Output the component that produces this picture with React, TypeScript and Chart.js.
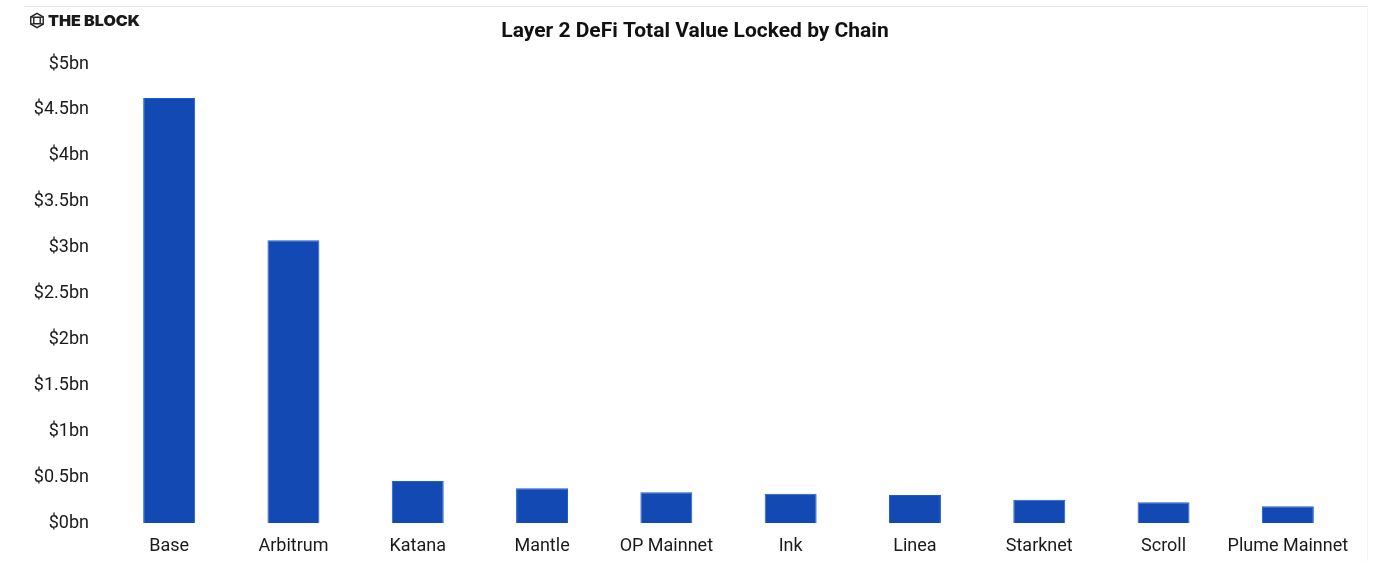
import React, { useEffect, useRef } from 'react';
import { Chart, registerables } from 'chart.js';

Chart.register(...registerables);

const categories = ['Base', 'Arbitrum', 'Katana', 'Mantle', 'OP Mainnet', 'Ink', 'Linea', 'Starknet', 'Scroll', 'Plume Mainnet'];
const tvlBn = [4.63, 3.08, 0.457, 0.378, 0.334, 0.319, 0.305, 0.254, 0.225, 0.182];
const yTicks = [0, 0.5, 1, 1.5, 2, 2.5, 3, 3.5, 4, 4.5, 5];
const chartTitle = 'Layer 2 DeFi Total Value Locked by Chain';
const brandName = 'THE BLOCK';

const FONT = 'Roboto, "Noto Sans", sans-serif';

const decoPlugin = {
  id: 'deco',
  beforeDraw(chart: any) {
    const ctx = chart.ctx;
    ctx.save();
    ctx.fillStyle = '#ffffff';
    ctx.fillRect(0, 0, chart.width, chart.height);
    ctx.strokeStyle = '#e6e6e6';
    ctx.lineWidth = 1;
    ctx.beginPath();
    ctx.moveTo(24, 6.5);
    ctx.lineTo(1368, 6.5);
    ctx.stroke();
    ctx.strokeStyle = '#f3f3f3';
    ctx.beginPath();
    ctx.moveTo(1367.5, 6.5);
    ctx.lineTo(1367.5, 561);
    ctx.stroke();
    ctx.restore();
  },
  afterDraw(chart: any) {
    const ctx = chart.ctx;
    ctx.save();
    // title
    ctx.fillStyle = '#111111';
    ctx.font = `bold 21px ${FONT}`;
    ctx.textAlign = 'center';
    ctx.textBaseline = 'middle';
    ctx.fillText(chartTitle, 695, 32);
    // logo icon
    const cx = 37, cy = 20.5, r = 7.2;
    ctx.strokeStyle = '#222222';
    ctx.lineWidth = 1.4;
    ctx.beginPath();
    for (let i = 0; i < 6; i++) {
      const a = Math.PI / 6 + (i * Math.PI) / 3;
      const x = cx + r * Math.cos(a);
      const y = cy + r * Math.sin(a);
      if (i === 0) ctx.moveTo(x, y); else ctx.lineTo(x, y);
    }
    ctx.closePath();
    ctx.stroke();
    const s = 3.2;
    ctx.beginPath();
    ctx.rect(cx - s, cy - s, 2 * s, 2 * s);
    ctx.moveTo(cx - s, cy - s); ctx.lineTo(cx - r * 0.87, cy - r * 0.5);
    ctx.moveTo(cx + s, cy - s); ctx.lineTo(cx + r * 0.87, cy - r * 0.5);
    ctx.moveTo(cx - s, cy + s); ctx.lineTo(cx - r * 0.87, cy + r * 0.5);
    ctx.moveTo(cx + s, cy + s); ctx.lineTo(cx + r * 0.87, cy + r * 0.5);
    ctx.stroke();
    // brand text
    ctx.font = `900 15px Inter, ${FONT}`;
    ctx.textAlign = 'left';
    ctx.textBaseline = 'middle';
    const w = ctx.measureText(brandName).width;
    const target = 92;
    ctx.translate(48, 21);
    ctx.scale(target / w, 1);
    ctx.fillStyle = '#1a1a1a';
    ctx.fillText(brandName, 0, 0);
    ctx.restore();
  },
};

export default function App() {
  const ref = useRef<HTMLCanvasElement>(null);
  useEffect(() => {
    if (!ref.current) return;
    const chart = new Chart(ref.current, {
      type: 'bar',
      data: {
        labels: categories,
        datasets: [
          {
            data: tvlBn,
            backgroundColor: '#1249b3',
            borderColor: '#1f5ad8',
            borderWidth: 1,
            categoryPercentage: 1,
            barPercentage: 0.418,
          },
        ],
      },
      options: {
        animation: false,
        responsive: true,
        maintainAspectRatio: false,
        layout: { padding: { left: 0, right: 32, top: 64, bottom: 0 } },
        plugins: {
          legend: { display: false },
          title: { display: false },
          tooltip: { enabled: false },
        },
        scales: {
          x: {
            grid: { display: false, drawTicks: false },
            border: { display: false },
            ticks: {
              color: '#1a1a1a',
              font: { family: FONT, size: 18 },
              padding: 13,
              maxRotation: 0,
              autoSkip: false,
            },
            afterFit(scale: any) {
              scale.height = 38;
            },
          },
          y: {
            min: 0,
            max: 5,
            grid: { display: false, drawTicks: false },
            border: { display: false },
            afterBuildTicks(scale: any) {
              scale.ticks = yTicks.map((v) => ({ value: v }));
            },
            ticks: {
              color: '#1a1a1a',
              font: { family: FONT, size: 18 },
              padding: 18,
              callback: (v: any) => `$${v}bn`,
            },
            afterFit(scale: any) {
              scale.width = 107;
            },
          },
        },
      },
      plugins: [decoPlugin],
    });
    return () => chart.destroy();
  }, []);
  return (
    <div style={{ position: 'fixed', left: 0, top: 0, width: 1382, height: 561, background: '#fff' }}>
      <canvas ref={ref} />
    </div>
  );
}
